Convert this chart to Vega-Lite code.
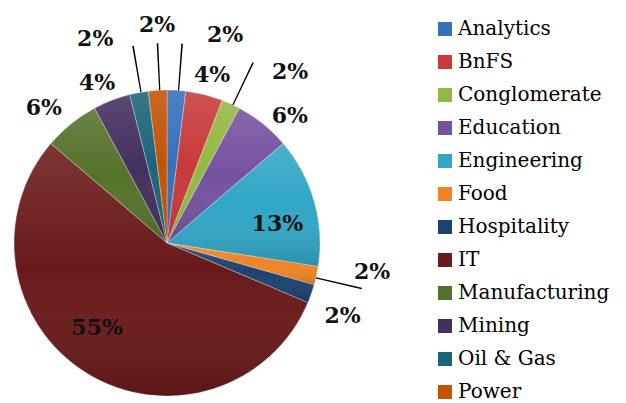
{
  "$schema": "https://vega.github.io/schema/vega-lite/v6.json",
  "width": 334,
  "height": 306,
  "autosize": {"type": "none"},
  "padding": {"left": 0, "top": 90, "right": 292, "bottom": 7},
  "background": "white",
  "config": {"view": {"stroke": null}},
  "data": {"values": [
    {"sector": "Analytics", "count": 1, "label": "2%"},
    {"sector": "BnFS", "count": 2, "label": "4%"},
    {"sector": "Conglomerate", "count": 1, "label": "2%"},
    {"sector": "Education", "count": 3, "label": "6%"},
    {"sector": "Engineering", "count": 7, "label": "13%"},
    {"sector": "Food", "count": 1, "label": "2%"},
    {"sector": "Hospitality", "count": 1, "label": "2%"},
    {"sector": "IT", "count": 28, "label": "55%"},
    {"sector": "Manufacturing", "count": 3, "label": "6%"},
    {"sector": "Mining", "count": 2, "label": "4%"},
    {"sector": "Oil & Gas", "count": 1, "label": "2%"},
    {"sector": "Power", "count": 1, "label": "2%"}
  ]},
  "transform": [
    {"stack": "count", "groupby": [], "sort": [{"field": "sector", "order": "ascending"}], "as": ["c0", "c1"]},
    {"calculate": "(datum.c0 + datum.c1) / 2", "as": "mid"}
  ],
  "layer": [
    {
      "mark": {"type": "arc", "outerRadius": 153, "stroke": "#ffffff", "strokeWidth": 0.6, "strokeOpacity": 0.5},
      "encoding": {
        "theta": {"field": "c0", "type": "quantitative", "stack": null, "scale": {"domain": [0, 51]}},
        "theta2": {"field": "c1"},
        "color": {
          "field": "sector", "type": "nominal",
          "scale": {
            "domain": ["Analytics", "BnFS", "Conglomerate", "Education", "Engineering", "Food", "Hospitality", "IT", "Manufacturing", "Mining", "Oil & Gas", "Power"],
            "range": ["#3670bb", "#c83a3a", "#93b842", "#7552a0", "#31a6c6", "#ee8426", "#1c426e", "#6a1a1a", "#55722a", "#43305e", "#1c6479", "#c25305"]
          },
          "legend": {
            "title": null, "orient": "none", "legendX": 435, "legendY": -71,
            "symbolType": "square", "symbolSize": 196, "symbolStrokeWidth": 0, "symbolOpacity": 1,
            "labelFont": "DejaVu Serif", "labelFontSize": 20, "labelColor": "#000000",
            "labelOffset": 3, "rowPadding": 13, "padding": 0, "labelLimit": 300
          }
        }
      }
    },
    {
      "mark": {"type": "arc", "outerRadius": 153,
        "fill": {"gradient": "linear", "x1": 0, "y1": 0, "x2": 0, "y2": 1,
          "stops": [{"offset": 0, "color": "rgba(255,255,255,0.12)"}, {"offset": 0.5, "color": "rgba(255,255,255,0)"}, {"offset": 1, "color": "rgba(0,0,0,0.14)"}]}},
      "encoding": {
        "theta": {"field": "c0", "type": "quantitative", "stack": null},
        "theta2": {"field": "c1"}
      }
    },
    {
      "transform": [{"filter": "indexof(['Analytics','Conglomerate','Oil & Gas','Power','Food'], datum.sector) >= 0"}],
      "mark": {"type": "arc", "innerRadius": 153, "outerRadius": 200, "fill": "#000000", "thetaOffset": 0.01, "theta2Offset": 0.018},
      "encoding": {
        "theta": {"field": "mid", "type": "quantitative", "stack": null},
        "theta2": {"field": "mid"}
      }
    },
    {
      "transform": [{"filter": "datum.sector == 'Analytics'"}],
      "mark": {"type": "text", "radius": 216, "thetaOffset": 0.211, "font": "DejaVu Serif", "fontWeight": "bold", "fontSize": 22, "fill": "#111111", "align": "center", "baseline": "middle"},
      "encoding": {"theta": {"field": "mid", "type": "quantitative", "stack": null}, "text": {"field": "label"}}
    },
    {
      "transform": [{"filter": "datum.sector == 'BnFS'"}],
      "mark": {"type": "text", "radius": 174, "thetaOffset": 0.016, "font": "DejaVu Serif", "fontWeight": "bold", "fontSize": 22, "fill": "#111111", "align": "center", "baseline": "middle"},
      "encoding": {"theta": {"field": "mid", "type": "quantitative", "stack": null}, "text": {"field": "label"}}
    },
    {
      "transform": [{"filter": "datum.sector == 'Conglomerate'"}],
      "mark": {"type": "text", "radius": 211, "thetaOffset": 0.192, "font": "DejaVu Serif", "fontWeight": "bold", "fontSize": 22, "fill": "#111111", "align": "center", "baseline": "middle"},
      "encoding": {"theta": {"field": "mid", "type": "quantitative", "stack": null}, "text": {"field": "label"}}
    },
    {
      "transform": [{"filter": "datum.sector == 'Education'"}],
      "mark": {"type": "text", "radius": 177, "thetaOffset": 0.089, "font": "DejaVu Serif", "fontWeight": "bold", "fontSize": 22, "fill": "#111111", "align": "center", "baseline": "middle"},
      "encoding": {"theta": {"field": "mid", "type": "quantitative", "stack": null}, "text": {"field": "label"}}
    },
    {
      "transform": [{"filter": "datum.sector == 'Engineering'"}],
      "mark": {"type": "text", "radius": 112, "thetaOffset": 0.106, "font": "DejaVu Serif", "fontWeight": "bold", "fontSize": 22, "fill": "#111111", "align": "center", "baseline": "middle"},
      "encoding": {"theta": {"field": "mid", "type": "quantitative", "stack": null}, "text": {"field": "label"}}
    },
    {
      "transform": [{"filter": "datum.sector == 'Food'"}],
      "mark": {"type": "text", "radius": 207, "thetaOffset": -0.077, "font": "DejaVu Serif", "fontWeight": "bold", "fontSize": 22, "fill": "#111111", "align": "center", "baseline": "middle"},
      "encoding": {"theta": {"field": "mid", "type": "quantitative", "stack": null}, "text": {"field": "label"}}
    },
    {
      "transform": [{"filter": "datum.sector == 'Hospitality'"}],
      "mark": {"type": "text", "radius": 190, "thetaOffset": 0.054, "font": "DejaVu Serif", "fontWeight": "bold", "fontSize": 22, "fill": "#111111", "align": "center", "baseline": "middle"},
      "encoding": {"theta": {"field": "mid", "type": "quantitative", "stack": null}, "text": {"field": "label"}}
    },
    {
      "transform": [{"filter": "datum.sector == 'IT'"}],
      "mark": {"type": "text", "radius": 110, "thetaOffset": 0.134, "font": "DejaVu Serif", "fontWeight": "bold", "fontSize": 22, "fill": "#111111", "align": "center", "baseline": "middle"},
      "encoding": {"theta": {"field": "mid", "type": "quantitative", "stack": null}, "text": {"field": "label"}}
    },
    {
      "transform": [{"filter": "datum.sector == 'Manufacturing'"}],
      "mark": {"type": "text", "radius": 183, "thetaOffset": -0.061, "font": "DejaVu Serif", "fontWeight": "bold", "fontSize": 22, "fill": "#111111", "align": "center", "baseline": "middle"},
      "encoding": {"theta": {"field": "mid", "type": "quantitative", "stack": null}, "text": {"field": "label"}}
    },
    {
      "transform": [{"filter": "datum.sector == 'Mining'"}],
      "mark": {"type": "text", "radius": 175, "thetaOffset": -0.042, "font": "DejaVu Serif", "fontWeight": "bold", "fontSize": 22, "fill": "#111111", "align": "center", "baseline": "middle"},
      "encoding": {"theta": {"field": "mid", "type": "quantitative", "stack": null}, "text": {"field": "label"}}
    },
    {
      "transform": [{"filter": "datum.sector == 'Oil & Gas'"}],
      "mark": {"type": "text", "radius": 216, "thetaOffset": -0.154, "font": "DejaVu Serif", "fontWeight": "bold", "fontSize": 22, "fill": "#111111", "align": "center", "baseline": "middle"},
      "encoding": {"theta": {"field": "mid", "type": "quantitative", "stack": null}, "text": {"field": "label"}}
    },
    {
      "transform": [{"filter": "datum.sector == 'Power'"}],
      "mark": {"type": "text", "radius": 218, "thetaOffset": 0.016, "font": "DejaVu Serif", "fontWeight": "bold", "fontSize": 22, "fill": "#111111", "align": "center", "baseline": "middle"},
      "encoding": {"theta": {"field": "mid", "type": "quantitative", "stack": null}, "text": {"field": "label"}}
    }
  ]
}
